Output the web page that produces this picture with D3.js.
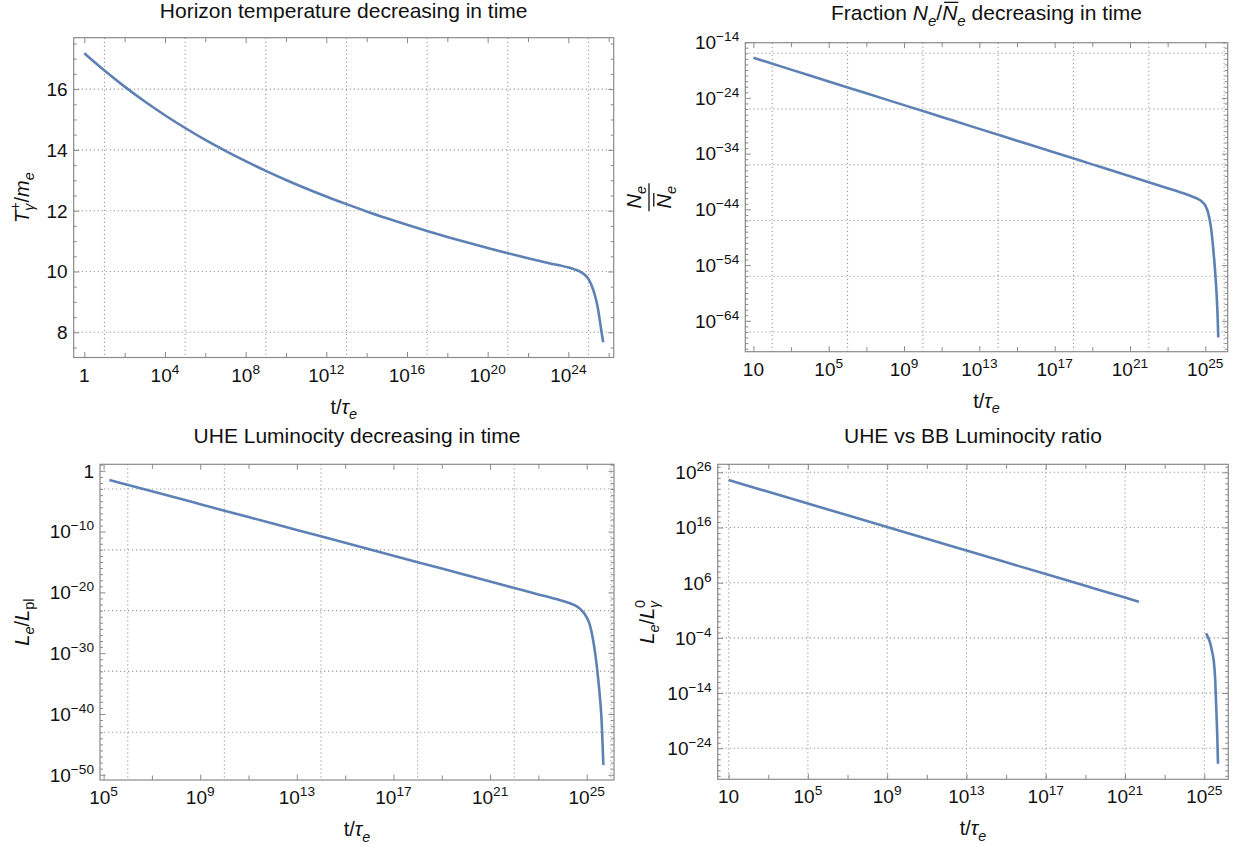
<!DOCTYPE html>
<html><head><meta charset="utf-8">
<script src="https://cdn.jsdelivr.net/npm/d3@7"></script>
<style>body{margin:0;background:#fff}svg{display:block}</style>
</head><body>
<svg id="c" width="1245" height="847"></svg>
<script>
// ---------- DATA (x given as log10(t/tau_e)) ----------
// Panel 1: horizon temperature (linear y)
const tempLogT = [0,1,2,3,4,5,6,7,8,9,10,11,12,13,14,15,16,17,18,19,20,21,22,23,24,24.3,24.6,24.8,25.0,25.15,25.3,25.45,25.57,25.66,25.73];
const tempValue = [17.18,16.61,16.08,15.59,15.14,14.72,14.33,13.97,13.63,13.31,13.01,12.73,12.465,12.215,11.975,11.75,11.535,11.33,11.135,10.95,10.772,10.602,10.439,10.282,10.132,10.07,9.99,9.9,9.75,9.55,9.26,8.85,8.35,7.95,7.67];
// Panel 2: fraction N_e / Nbar_e (log10 of value)
const fracLogT = [1,3,5,7,9,11,13,15,17,19,21,22,23,23.8,24.3,24.6,24.8,25.0,25.15,25.3,25.42,25.52,25.6,25.65,25.69];
const fracLogValue = [-16.8,-18.93,-21.05,-23.18,-25.3,-27.43,-29.56,-31.68,-33.8,-35.93,-38.06,-39.12,-40.2,-41.08,-41.68,-42.12,-42.55,-43.3,-44.6,-47.2,-51.0,-55.0,-59.2,-62.8,-67.0];
// Panel 3: UHE luminosity L_e / L_pl (log10)
const lumLogT = [5.24,7,9,11,13,15,17,19,21,22,23,23.9,24.3,24.59,24.8,24.93,25.05,25.14,25.25,25.35,25.42,25.48,25.53,25.58,25.62,25.65,25.67,25.69];
const lumLogValue = [-1.5,-3.37,-5.49,-7.61,-9.73,-11.85,-13.97,-16.09,-18.21,-19.27,-20.33,-21.3,-21.78,-22.3,-23.0,-23.65,-24.5,-25.5,-27.5,-30.0,-32.2,-34.4,-36.5,-38.8,-41.3,-44.3,-46.3,-48.4];
// Panel 4: UHE vs BB luminosity ratio (log10), two separate pieces
const ratioLogT1 = [1,3,5,7,9,11,13,15,17,19,21,21.7];
const ratioLogValue1 = [24.6,22.47,20.34,18.21,16.08,13.95,11.82,9.69,7.56,5.43,3.3,2.56];
const ratioLogT2 = [25.09,25.2,25.3,25.4,25.47,25.55,25.6,25.65,25.69];
const ratioLogValue2 = [-3.2,-4.0,-5.0,-6.6,-8.0,-11.6,-16.5,-21.3,-26.8];

// tick labels (exponents / values)
const p1XLabels = [0,4,8,12,16,20,24];
const p1YLabels = [8,10,12,14,16];
const p2XLabels = [1,5,9,13,17,21,25];
const p2YLabels = [-14,-24,-34,-44,-54,-64];
const p3XLabels = [5,9,13,17,21,25];
const p3YLabels = [0,-10,-20,-30,-40,-50];
const p4XLabels = [1,5,9,13,17,21,25];
const p4YLabels = [26,16,6,-4,-14,-24];

// titles
const titles = ["Horizon temperature decreasing in time", "Fraction", "UHE Luminocity decreasing in time", "UHE vs BB Luminocity ratio"];

// ---------- STYLE ----------
const FONT = "'Liberation Sans', Arimo, Arial, Helvetica, sans-serif";
const LINE = "#5e81b5", FRAME = "#8a8a8a", GRID = "#a0a0a0", TXT = "#111";
const TICKFS = 19, TITLEFS = 21, LABFS = 20;

const svg = d3.select("#c").style("font-family", FONT);

function rich(text, parts, fs) {
  let cur = 0;
  parts.forEach(p => {
    const target = p.pos === "sup" ? -0.42 * fs : p.pos === "sub" ? 0.28 * fs : 0;
    const ts = text.append("tspan").text(p.t);
    if (target !== cur) { ts.attr("dy", target - cur); cur = target; }
    if (p.pos) ts.attr("font-size", 0.72 * fs);
    if (p.it) ts.attr("font-style", "italic");
    if (p.dx) ts.attr("dx", p.dx * fs);
  });
}
function powParts(e) {
  if (e === 0) return [{t: "1"}];
  if (e === 1) return [{t: "10"}];
  return [{t: "10"}, {t: e < 0 ? "\u2212" + (-e) : String(e), pos: "sup"}];
}

const panels = [
  {frame: [73.7, 613.7, 37.7, 357.5], xExp: [-0.526, 26.25], yDom: [7.171, 17.69], yLog: false,
   xLab: p1XLabels, xMinor: d3.range(2, 27, 4), yLab: p1YLabels, yMinor: d3.range(7.5, 17.6, 0.5).filter(v => !p1YLabels.includes(v)),
   xGrid: d3.range(1, 26, 4), yGrid: p1YLabels,
   series: [[tempLogT, tempValue]]},
  {frame: [745.3, 1227.7, 42.7, 351.7], xExp: [0.570, 26.19], yDom: [-69.54, -14.10], yLog: true,
   xLab: p2XLabels, xMinor: d3.range(3, 24, 4), yLab: p2YLabels, yMinor: d3.range(-69, -14).filter(v => !p2YLabels.includes(v)),
   xGrid: d3.range(2, 27, 4), yGrid: d3.range(-16, -67, -10),
   series: [[fracLogT, fracLogValue]]},
  {frame: [100, 614, 464.3, 780], xExp: [4.851, 26.13], yDom: [-50.86, 1.069], yLog: true,
   xLab: p3XLabels, xMinor: d3.range(7, 24, 4), yLab: p3YLabels, yMinor: d3.range(-50, 2).filter(v => !p3YLabels.includes(v)),
   xGrid: d3.range(6, 27, 4), yGrid: d3.range(-3, -44, -10),
   series: [[lumLogT, lumLogValue]]},
  {frame: [717.7, 1228.3, 464.3, 779.3], xExp: [0.450, 26.21], yDom: [-29.62, 27.45], yLog: true,
   xLab: p4XLabels, xMinor: d3.range(3, 24, 4), yLab: p4YLabels, yMinor: d3.range(-29, 28).filter(v => !p4YLabels.includes(v)),
   xGrid: d3.range(1, 26, 4), yGrid: p4YLabels,
   series: [[ratioLogT1, ratioLogValue1], [ratioLogT2, ratioLogValue2]]}
];

panels.forEach((p, pi) => {
  const [x0, x1, y0, y1] = p.frame;
  const x = d3.scaleLog().domain([10 ** p.xExp[0], 10 ** p.xExp[1]]).range([x0, x1]);
  const y = p.yLog ? d3.scaleLog().domain([10 ** p.yDom[0], 10 ** p.yDom[1]]).range([y1, y0])
                   : d3.scaleLinear().domain(p.yDom).range([y1, y0]);
  const yv = v => p.yLog ? y(10 ** v) : y(v);
  const g = svg.append("g");

  // grid
  g.selectAll(".gx").data(p.xGrid).join("line")
    .attr("x1", d => x(10 ** d)).attr("x2", d => x(10 ** d)).attr("y1", y0).attr("y2", y1)
    .attr("stroke", GRID).attr("stroke-width", 1.1).attr("stroke-dasharray", "1.3 2.7");
  g.selectAll(".gy").data(p.yGrid).join("line")
    .attr("y1", d => yv(d)).attr("y2", d => yv(d)).attr("x1", x0).attr("x2", x1)
    .attr("stroke", GRID).attr("stroke-width", 1.1).attr("stroke-dasharray", "1.3 2.7");

  // ticks on all four sides (inward)
  const tk = (gen, tr, vals, len) => {
    g.append("g").attr("transform", tr)
      .call(gen.tickValues(vals).tickSize(-len).tickFormat(""))
      .call(s => { s.select(".domain").remove(); s.selectAll("text").remove();
                   s.selectAll("line").attr("stroke", FRAME); });
  };
  const xm = p.xLab.map(e => 10 ** e), xn = p.xMinor.map(e => 10 ** e);
  const ym = p.yLab.map(v => p.yLog ? 10 ** v : v), yn = p.yMinor.map(v => p.yLog ? 10 ** v : v);
  tk(d3.axisBottom(x), `translate(0,${y1})`, xm, 5.5);
  tk(d3.axisBottom(x), `translate(0,${y1})`, xn, 4.5);
  tk(d3.axisTop(x), `translate(0,${y0})`, xm, 5.5);
  tk(d3.axisTop(x), `translate(0,${y0})`, xn, 4.5);
  tk(d3.axisLeft(y), `translate(${x0},0)`, ym, 5.5);
  tk(d3.axisLeft(y), `translate(${x0},0)`, yn, 3);
  tk(d3.axisRight(y), `translate(${x1},0)`, ym, 5.5);
  tk(d3.axisRight(y), `translate(${x1},0)`, yn, 3);

  // frame
  g.append("rect").attr("x", x0).attr("y", y0).attr("width", x1 - x0).attr("height", y1 - y0)
    .attr("fill", "none").attr("stroke", FRAME).attr("stroke-width", 1.2);

  // tick labels
  p.xLab.forEach(e => {
    const t = g.append("text").attr("x", x(10 ** e)).attr("y", y1 + 24)
      .attr("text-anchor", "middle").attr("font-size", TICKFS).attr("fill", TXT);
    rich(t, powParts(e), TICKFS);
  });
  p.yLab.forEach(v => {
    const t = g.append("text").attr("x", x0 - 6).attr("y", yv(v) + 0.36 * TICKFS)
      .attr("text-anchor", "end").attr("font-size", TICKFS).attr("fill", TXT);
    if (p.yLog) rich(t, powParts(v), TICKFS); else t.text(String(v));
  });

  // curves
  const line = d3.line().x(d => x(10 ** d[0])).y(d => yv(d[1])).curve(d3.curveMonotoneX);
  p.series.forEach(([lx, lv]) => {
    g.append("path").datum(lx.map((e, i) => [e, lv[i]])).attr("d", line)
      .attr("fill", "none").attr("stroke", LINE).attr("stroke-width", 2.6)
      .attr("stroke-linejoin", "round").attr("stroke-linecap", "butt");
  });

  // x axis title t/tau_e
  const xt = g.append("text").attr("x", (x0 + x1) / 2).attr("y", y1 + 56).attr("text-anchor", "middle")
    .attr("font-size", LABFS).attr("fill", TXT);
  rich(xt, [{t: "t/"}, {t: "\u03c4", it: true}, {t: "e", it: true, pos: "sub"}], LABFS);
  p.cx = (x0 + x1) / 2; p.cy = (y0 + y1) / 2;
});

// ---------- titles ----------
function title(cx, base, parts) {
  const t = svg.append("text").attr("x", cx).attr("y", base).attr("text-anchor", "middle")
    .attr("font-size", TITLEFS).attr("fill", TXT).style("white-space", "pre");
  rich(t, parts, TITLEFS);
  return t;
}
title(panels[0].cx, 18, [{t: titles[0]}]);
const t2 = title(panels[1].cx, 20, [{t: titles[1] + " "}, {t: "N", it: true}, {t: "e", it: true, pos: "sub"}, {t: "/"},
  {t: "N", it: true}, {t: "e", it: true, pos: "sub"}, {t: " decreasing in time"}]);
{
  const ex = t2.node().getExtentOfChar(titles[1].length + 4);
  svg.append("line").attr("x1", ex.x + 2).attr("x2", ex.x + ex.width + 1)
    .attr("y1", 20 - 0.84 * TITLEFS).attr("y2", 20 - 0.84 * TITLEFS)
    .attr("stroke", TXT).attr("stroke-width", 1.3);
}
title(panels[2].cx, 443, [{t: titles[2]}]);
title(panels[3].cx, 443, [{t: titles[3]}]);

// ---------- y axis titles ----------
function ytitle(cx, cy, parts) {
  const g = svg.append("g").attr("transform", `translate(${cx},${cy}) rotate(-90)`);
  const t = g.append("text").attr("x", 0).attr("y", 6.5).attr("text-anchor", "middle")
    .attr("font-size", LABFS).attr("fill", TXT);
  rich(t, parts, LABFS);
}
ytitle(22, panels[0].cy, [{t: "T", it: true}, {t: "+", pos: "sup"}, {t: "\u03b3", it: true, pos: "sub", dx: -0.42},
  {t: "/", dx: 0.05}, {t: "m", it: true}, {t: "e", it: true, pos: "sub"}]);
ytitle(22, panels[2].cy, [{t: "L", it: true}, {t: "e", it: true, pos: "sub"}, {t: "/"}, {t: "L", it: true}, {t: "pl", pos: "sub"}]);
ytitle(647, panels[3].cy, [{t: "L", it: true}, {t: "e", it: true, pos: "sub"}, {t: "/"}, {t: "L", it: true},
  {t: "0", pos: "sup"}, {t: "\u03b3", it: true, pos: "sub", dx: -0.4}]);

// fraction N_e / Nbar_e
{
  const g = svg.append("g").attr("transform", `translate(649,${panels[1].cy}) rotate(-90)`);
  const num = g.append("text").attr("x", 0).attr("y", -0.42 * LABFS).attr("text-anchor", "middle")
    .attr("font-size", LABFS).attr("fill", TXT);
  rich(num, [{t: "N", it: true}, {t: "e", it: true, pos: "sub"}], LABFS);
  g.append("line").attr("x1", -14).attr("x2", 14).attr("y1", 0).attr("y2", 0).attr("stroke", TXT).attr("stroke-width", 1.3);
  const dby = 1.08 * LABFS;
  const den = g.append("text").attr("x", 0).attr("y", dby).attr("text-anchor", "middle")
    .attr("font-size", LABFS).attr("fill", TXT);
  rich(den, [{t: "N", it: true}, {t: "e", it: true, pos: "sub"}], LABFS);
  const ex = den.node().getExtentOfChar(0);
  g.append("line").attr("x1", ex.x + 2).attr("x2", ex.x + ex.width + 1)
    .attr("y1", dby - 0.84 * LABFS).attr("y2", dby - 0.84 * LABFS).attr("stroke", TXT).attr("stroke-width", 1.3);
}
</script>
</body></html>
